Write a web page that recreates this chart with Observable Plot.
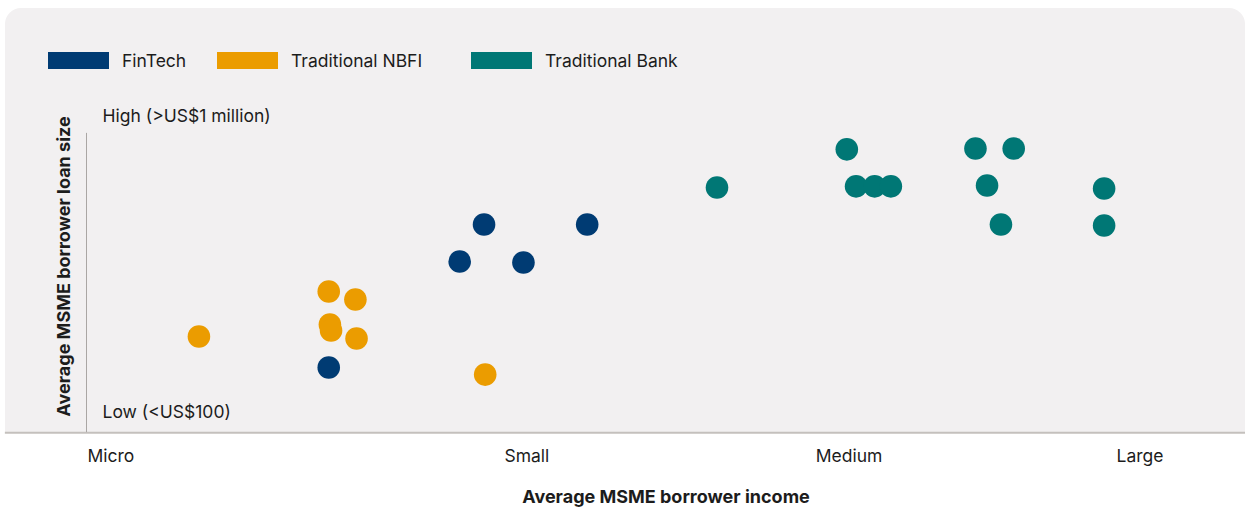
<!DOCTYPE html>
<html>
<head>
<meta charset="utf-8">
<script src="https://cdn.jsdelivr.net/npm/d3@7"></script>
<script src="https://cdn.jsdelivr.net/npm/@observablehq/plot@0.6"></script>
<style>
  body { margin: 0; background: #fff; font-family: Inter, "Noto Sans", sans-serif; color: #1c1c1c; }
  #wrap { position: relative; width: 1248px; height: 512px; }
  #panel { position: absolute; left: 5px; top: 8px; width: 1240px; height: 424px; background: #f2f0f1; border-radius: 16px 16px 0 0; }
  #legend { position: relative; height: 95px; display: flex; align-items: flex-start; padding-left: 48px; box-sizing: border-box; padding-top: 50px; }
  .item { display: flex; align-items: center; font-size: 17.5px; }
  .sw { width: 61px; height: 17px; margin-right: 13px; }
  #chart { position: relative; }
  #chart svg { overflow: visible; }
</style>
</head>
<body>
<div id="wrap">
  <div id="panel"></div>
  <div id="legend"></div>
  <div id="chart"></div>
</div>
<script>
// Categories and colours
const categories = ["FinTech", "Traditional NBFI", "Traditional Bank"];
const colors = ["#003b73", "#eb9c00", "#007775"];

// Series values (income index 0-100 on x, loan-size index 0-100 on y)
const fintechX = [20.9, 32.2, 34.3, 37.7, 43.2];
const fintechY = [15.2, 51.0, 63.5, 50.7, 63.5];
const nbfiX = [9.7, 20.9, 23.2, 21.0, 21.1, 23.3, 34.4];
const nbfiY = [25.7, 40.9, 38.2, 29.7, 27.7, 25.0, 12.8];
const bankX = [54.4, 65.6, 66.4, 68.0, 69.4, 76.7, 80.0, 77.7, 78.9, 87.8, 87.8];
const bankY = [76.0, 88.9, 76.4, 76.4, 76.4, 89.2, 89.2, 76.7, 63.5, 75.7, 63.2];

// Tick labels
const xTickValues = [2.1, 38.0, 65.8, 90.9];
const xTickLabels = ["Micro", "Small", "Medium", "Large"];
const yTickValues = [0, 100];
const yTickLabels = ["Low (<US$100)", "High (>US$1 million)"];
const xTitle = "Average MSME borrower income";
const yTitle = "Average MSME borrower loan size";

const data = [
  ...nbfiX.map((x, i) => ({type: categories[1], x, y: nbfiY[i]})),
  ...fintechX.map((x, i) => ({type: categories[0], x, y: fintechY[i]})),
  ...bankX.map((x, i) => ({type: categories[2], x, y: bankY[i]}))
];

// Legend
const legend = document.getElementById("legend");
const itemWidths = [169, 254, 300];
categories.forEach((c, i) => {
  const it = document.createElement("div");
  it.className = "item";
  it.style.width = itemWidths[i] + "px";
  const sw = document.createElement("div");
  sw.className = "sw";
  sw.style.background = colors[i];
  const t = document.createElement("span");
  t.textContent = c;
  it.appendChild(sw); it.appendChild(t);
  legend.appendChild(it);
});

const chart = Plot.plot({
  width: 1248,
  height: 417,
  marginLeft: 86,
  marginRight: 3,
  marginTop: 21,
  marginBottom: 100,
  style: {background: "transparent", fontFamily: "Inter, 'Noto Sans', sans-serif", color: "#1c1c1c", overflow: "visible"},
  x: {domain: [0, 100], axis: null},
  y: {domain: [0, 100], axis: null},
  color: {domain: categories, range: colors},
  marks: [
    Plot.ruleY([-6.8], {x1: -7, x2: 100, stroke: "#c4c0bd", strokeWidth: 2}),
    Plot.ruleX([0], {y1: -6.8, y2: 94.3, stroke: "#aaa6a4", strokeWidth: 1}),
    Plot.axisX(xTickValues, {
      tickFormat: d => xTickLabels[xTickValues.indexOf(d)],
      tickSize: 0, tickPadding: 37, fontSize: 17.5, label: null
    }),
    Plot.text(yTickValues, {
      x: 0, y: d => d, text: d => yTickLabels[yTickValues.indexOf(d)],
      textAnchor: "start", dx: 16, fontSize: 17.5
    }),
    Plot.text([yTitle], {frameAnchor: "left", textAnchor: "middle", rotate: -90, dx: -22, dy: 2, fontSize: 18, fontWeight: "bold"}),
    Plot.text([xTitle], {frameAnchor: "bottom", dy: 90, fontSize: 18, fontWeight: "bold"}),
    Plot.dot(data, {x: "x", y: "y", fill: "type", r: 11.3, stroke: null})
  ]
});
document.getElementById("chart").appendChild(chart);
</script>
</body>
</html>
